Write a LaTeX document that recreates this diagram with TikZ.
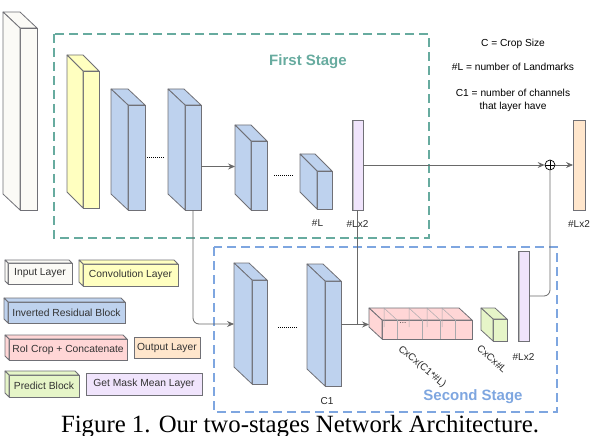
\documentclass[tikz,border=0pt]{standalone}
\usepackage{fontspec}
\setmainfont{Liberation Sans}
\newfontfamily\capfont{Liberation Serif}
\usepackage{tikz}
\usetikzlibrary{arrows,arrows.meta,positioning}

\definecolor{inputcol}{RGB}{251,250,246}
\definecolor{convcol}{RGB}{255,255,192}
\definecolor{blockcol}{RGB}{190,210,238}
\definecolor{roicol}{RGB}{255,214,214}
\definecolor{outcol}{RGB}{255,230,204}
\definecolor{predcol}{RGB}{230,245,200}
\definecolor{maskcol}{RGB}{240,228,252}
\definecolor{firstcol}{RGB}{103,171,159}
\definecolor{secondcol}{RGB}{126,166,224}
\definecolor{edgecol}{RGB}{112,112,118}
\definecolor{wirecol}{RGB}{105,105,105}

\tikzset{
    %Define standard arrow tip
    >={Stealth[length=7pt,width=6pt,inset=2.5pt]},
    %Define style for layer faces
    face/.style={
           rectangle,
           draw=edgecol, line width=0.8pt,
           inner sep=0pt, outer sep=0pt,
           font=\fontsize{10.3}{12}\selectfont,
           text=black!80},
    side/.style={
           draw=edgecol, line width=0.8pt,
           line join=round},
    mask/.style={
           face,
           fill=maskcol,
           anchor=north west,
           minimum width=11pt,
           minimum height=90pt,
           path picture={\fill[black!28] (path picture bounding box.north west)
                 rectangle ([xshift=2pt]path picture bounding box.south west);}},
    slice/.style={
           draw=edgecol!60, line width=0.5pt},
    % Define style for stage frames
    frame/.style={
           line width=2.5pt,
           dash pattern=on 9pt off 5pt},
    title/.style={
           font=\bfseries\fontsize{15}{18}\selectfont},
    lbl/.style={
           font=\fontsize{10}{12}\selectfont,
           inner sep=1pt,
           text=black!85},
    note/.style={
           font=\fontsize{10.2}{13}\selectfont,
           align=center,
           inner sep=1pt},
    % Define arrow style
    wire/.style={
           draw=wirecol, line width=0.8pt},
    pil/.style={
           wire, ->},
    dots/.style={
           densely dotted, line width=1pt},
    sum/.style={
           circle, draw=black, line width=0.7pt,
           minimum size=10pt, inner sep=0pt,
           path picture={\draw[line width=0.7pt]
                 (path picture bounding box.north) -- (path picture bounding box.south)
                 (path picture bounding box.west) -- (path picture bounding box.east);}}
}

% name, colour, x, y, width, height, depth x, depth y, text
\newcommand{\cuboid}[9]{%
  \node[face, fill=#2, anchor=north west, minimum width=#5pt, minimum height=#6pt] (#1) at (#3,#4) {#9};
  \draw[side, fill=#2] (#1.north west) -- ++(#7,#8) -- ++(#5,0) -- (#1.north east) -- cycle;
  \draw[side, fill=#2] (#1.north west) -- ++(#7,#8) -- ++(0,#6) -- (#1.south west) -- cycle;
}

\begin{document}
\begin{tikzpicture}[x=1pt,y=-1pt]
\useasboundingbox (0,0) rectangle (590,436);

% stage frames
\draw[frame, firstcol] (54,34) rectangle (429,238);
\draw[frame, secondcol] (214,247) rectangle (557,412);
\node[title, text=firstcol] (first) at (308,62) {First Stage};
\node[title, text=secondcol] (second) at (473,397) {Second Stage};

% first stage
\cuboid{inp}{inputcol}{20}{28}{17}{182}{-17}{-16}{}
\cuboid{conv}{convcol}{83}{71}{16}{137}{-16}{-16}{}
\cuboid{irbA}{blockcol}{128}{105}{17}{105}{-17}{-16}{}
\cuboid{irbB}{blockcol}{185}{105}{16}{105}{-17}{-16}{}
\cuboid{irbC}{blockcol}{251}{141}{16}{69}{-16}{-16}{}
\cuboid{irbD}{blockcol}{317}{171}{15}{38}{-17}{-17}{}
\node[mask] (maskA) at (352,120) {};
\node[face, fill=outcol, anchor=north west, minimum width=12pt, minimum height=90pt] (out) at (573,120) {};
\node[sum] (plus) at (550,165) {};

% second stage
\cuboid{irbE}{blockcol}{252}{280}{15}{104}{-18}{-17}{}
\cuboid{irbF}{blockcol}{325}{281}{16}{105}{-18}{-17}{}
\cuboid{roi}{roicol}{382}{320}{90}{19}{-13}{-12}{}
\foreach \s in {15,40,58,73}{
  \draw[slice] ([xshift=\s pt]roi.north west) -- ++(-13,-12) -- ++(0,19);
  \draw[slice] ([xshift=\s pt]roi.north west) -- ([xshift=\s pt]roi.south west);
}
\node[lbl, font=\fontsize{8}{8}\selectfont] (roidots) at (403,323) {...};
\cuboid{pred}{predcol}{493}{319}{14}{22}{-12}{-11}{}
\node[mask] (maskB) at (518,251) {};

% dotted gaps
\draw[dots] ([xshift=2pt]irbA.east) -- ++(18,0);
\draw[dots] ([xshift=7pt]irbC.east) -- ++(19,0);
\draw[dots] ([xshift=11pt,yshift=5pt]irbE.east) -- ++(19,0);

% connectors
\path ([yshift=-9pt]irbB.east) coordinate (irbBout);
\path ([xshift=-16pt]irbC.west) coordinate (irbCside);
\path ([xshift=-18pt,yshift=8pt]irbE.west) coordinate (irbEin);
\path ([xshift=-13pt,yshift=5pt]roi.west) coordinate (roiin);
\draw[pil] (irbBout) -- (irbBout -| irbCside);
\draw[pil] (maskA.east) -- (plus.west);
\draw[pil] (plus.east) -- (out.west);
\draw[wire, rounded corners=6pt] (maskB.east) -| (plus.south);
\draw[pil, rounded corners=6pt] (irbB.south) |- (irbEin);
\draw[wire] (maskA.south) -- (maskA.south |- roiin);
\draw[pil] (irbF.east |- roiin) -- (roiin);

% sizes
\node[lbl, below=9pt of irbD, xshift=-7pt] (sizeD) {\#L};
\node[lbl, below=9pt of maskA] (sizeA) {\#Lx2};
\node[lbl, below=9pt of out] (sizeout) {\#Lx2};
\node[lbl, below=10pt of irbF, xshift=-6pt] (sizeF) {C1};
\node[lbl, below=11pt of maskB] (sizeB) {\#Lx2};
\node[lbl, rotate=-40] (sizeroi) at ([xshift=40pt,yshift=-28pt]roi.south west) {CxCx(C1*\#L)};
\node[lbl, rotate=-42] (sizepred) at ([xshift=-8pt,yshift=-18pt]pred.south) {CxCx\#L};

% notes
\node[note] (noteC) at (513,44) {C = Crop Size};
\node[note] (noteL) at (513,67) {\#L = number of Landmarks};
\node[note] (noteC1) at (513,100) {C1 = number of channels\\that layer have};

% legend
\cuboid{keyinp}{inputcol}{8}{263}{64}{21}{-3}{-3}{Input Layer}
\cuboid{keyconv}{convcol}{83}{264}{95}{22}{-4}{-4}{Convolution Layer}
\cuboid{keyirb}{blockcol}{8}{302}{117}{21}{-4}{-4}{Inverted Residual Block}
\cuboid{keyroi}{roicol}{9}{339}{118}{21}{-4}{-4}{RoI Crop + Concatenate}
\node[face, fill=outcol, anchor=north west, minimum width=66pt, minimum height=21pt] (keyout) at (134,337) {Output Layer};
\cuboid{keypred}{predcol}{9}{375}{70}{22}{-4}{-4}{Predict Block}
\node[face, fill=maskcol, anchor=north west, minimum width=116pt, minimum height=22pt] (keymask) at (86,373) {Get Mask Mean Layer};

% caption
\node[anchor=base, inner sep=0pt, font=\capfont\fontsize{24.8}{28}\selectfont] (caption) at (300,432) {Figure 1. Our two-stages Network Architecture.};
\end{tikzpicture}
\end{document}
